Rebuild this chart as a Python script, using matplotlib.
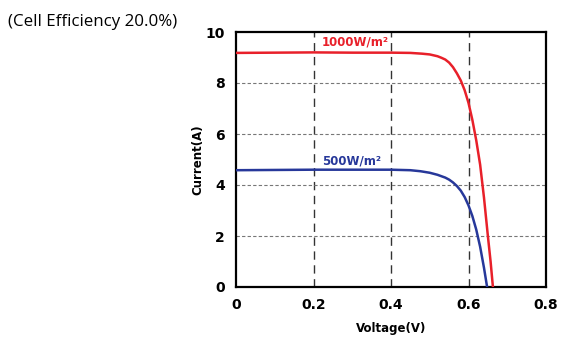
import numpy as np
import matplotlib.pyplot as plt

# I-V curves
v_1000 = [0, 0.1, 0.2, 0.3, 0.4, 0.45, 0.48, 0.50, 0.52, 0.53, 0.54, 0.55, 0.56, 0.57,
          0.58, 0.59, 0.60, 0.61, 0.62, 0.63, 0.64, 0.65, 0.657, 0.663]
i_1000 = [9.18, 9.19, 9.20, 9.19, 9.19, 9.18, 9.15, 9.12, 9.05, 8.99, 8.92, 8.80, 8.62, 8.38,
          8.10, 7.72, 7.22, 6.55, 5.75, 4.80, 3.50, 2.00, 1.00, 0.0]
v_500 = [0, 0.2, 0.4, 0.45, 0.476, 0.50, 0.52, 0.54, 0.55, 0.56, 0.57, 0.58, 0.59, 0.60,
         0.61, 0.62, 0.63, 0.64, 0.648]
i_500 = [4.58, 4.60, 4.60, 4.58, 4.54, 4.48, 4.40, 4.29, 4.21, 4.10, 3.96, 3.78, 3.53, 3.20,
         2.78, 2.25, 1.58, 0.75, 0.0]

x_ticks = [0, 0.2, 0.4, 0.6, 0.8]
x_tick_labels = ['0', '0.2', '0.4', '0.6', '0.8']
y_ticks = [0, 2, 4, 6, 8, 10]

fig = plt.figure(figsize=(5.82, 3.59), dpi=100)
ax = fig.add_axes([236/582, 1-287/359, 310/582, 255/359])

# grid
for x in [0.2, 0.4, 0.6]:
    ax.axvline(x, color='#333333', lw=1.0, ls=(0, (6, 4)), zorder=1)
for y in [2, 4, 6, 8]:
    ax.axhline(y, color='#777777', lw=0.8, ls=(0, (3, 2)), zorder=1)

ax.plot(v_1000, i_1000, color='#e8202a', lw=1.8, zorder=3)
ax.plot(v_500, i_500, color='#27389a', lw=1.8, zorder=3)

ax.text(0.222, 9.62, '1000W/m²', color='#e8202a', fontsize=8.5,
        fontweight='bold', va='center', ha='left')
ax.text(0.222, 4.94, '500W/m²', color='#27389a', fontsize=8.5,
        fontweight='bold', va='center', ha='left')

ax.set_xlim(0, 0.8)
ax.set_ylim(0, 10)
ax.set_xticks(x_ticks)
ax.set_xticklabels(x_tick_labels)
ax.set_yticks(y_ticks)
ax.tick_params(length=0, labelsize=10, pad=8)
for lab in ax.get_xticklabels() + ax.get_yticklabels():
    lab.set_fontweight('bold')
for s in ax.spines.values():
    s.set_linewidth(1.6)

ax.set_xlabel('Voltage(V)', fontsize=8.5, fontweight='bold', labelpad=7)
ax.set_ylabel('Current(A)', fontsize=8.5, fontweight='bold', labelpad=1)

fig.text(8/582, 1-22/359, '(Cell Efficiency 20.0%)', fontsize=12.2,
         family='Open Sans', va='center', ha='left')

fig.savefig('out.png', dpi=100)
